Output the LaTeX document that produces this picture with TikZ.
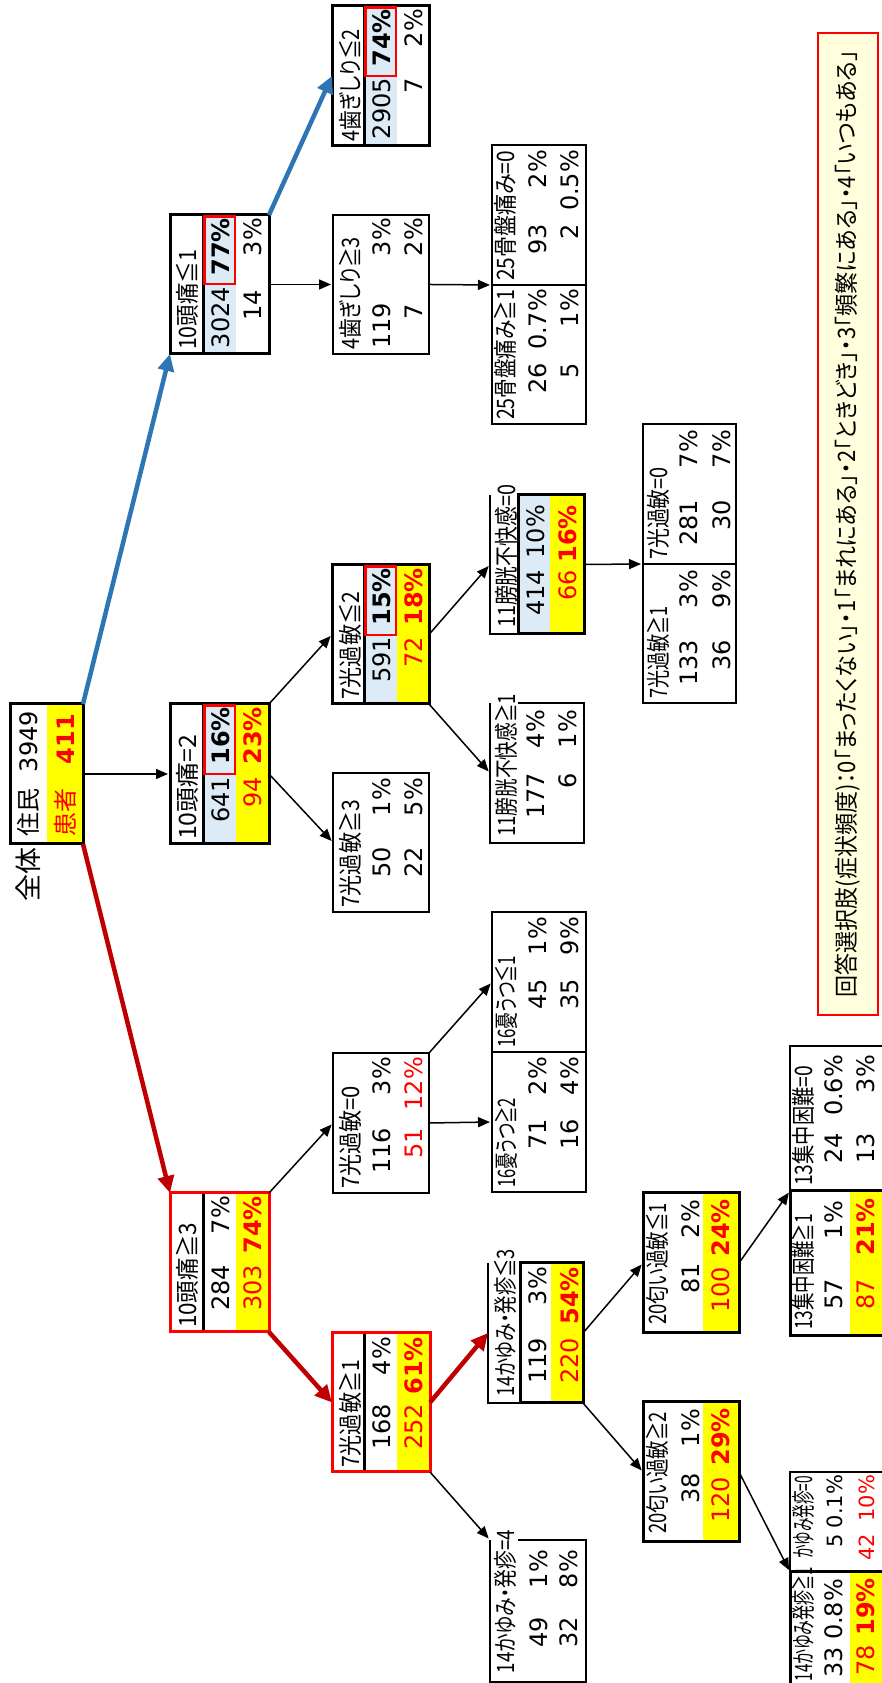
\documentclass[tikz,border=0pt]{standalone}
\usepackage{fontspec}
\setmainfont{Noto Sans CJK JP}[RawFeature=+palt]
\newfontfamily\numf{DejaVu Sans}
\usetikzlibrary{arrows.meta}
\definecolor{lb}{HTML}{DDEBF7}
\definecolor{yel}{HTML}{FFFF00}
\definecolor{rd}{HTML}{FF0000}
\definecolor{dred}{HTML}{C00000}
\definecolor{blu}{HTML}{2E75B6}
\definecolor{leg}{HTML}{FFFFDD}
\newcommand\bx[6]{\node[bxs,#6,minimum width={(#4)-(#2)},minimum height={(#5)-(#3)}] (#1) at (#2,-#5) {};}
\newcommand\hw[2]{\resizebox{#1pt}{\height}{#2}}
\begin{document}
\begin{tikzpicture}[x=1pt,y=1pt,
  every node/.style={inner sep=0pt,outer sep=0pt,font=\fontsize{24}{28}\selectfont},
  bxs/.style={anchor=south west,inner sep=0pt,outer sep=0pt},
  tk/.style={draw=black,line width=3pt},
  tkr/.style={draw=rd,line width=3pt},
  tn/.style={draw=black,line width=1.2pt},
  hl/.style={draw=rd,line width=2.5pt},
  hd/.style={anchor=west},
  nr/.style={anchor=base east,font=\fontsize{24}{28}\selectfont\numf},
  bfn/.style={font=\fontsize{24}{28}\selectfont\numf\bfseries},
  sm/.style={font=\fontsize{21}{24}\selectfont\numf},
  redt/.style={text=rd},
  ar/.style={draw=black,line width=1.5pt,-{Triangle[length=12pt,width=10pt]},shorten >=2pt},
  arb/.style={draw=blu,line width=4.5pt,-{Triangle[length=17pt,width=16pt]}},
  arr/.style={draw=dred,line width=4.5pt,-{Triangle[length=17pt,width=16pt]}}]
\useasboundingbox (0,0) rectangle (882,1683);
\fill[white] (0,0) rectangle (882,1683);
\begin{scope}[rotate=90,transform shape]
% ---------- root
\fill[yel] (839,-47) rectangle (979,-83);
\bx{root}{839}{10}{979}{83}{tk}
\node[anchor=base west] (rootT1) at (846,-37) {住民};
\node[nr] (rootT2) at (972,-37) {3949};
\node[anchor=base west,redt] (rootT3) at (846,-74) {患者};
\node[nr,redt,bfn] (rootT4) at (969,-74) {411};
\node[font=\fontsize{27}{30}\selectfont] (zentai) at (808,-28) {全体};
% ---------- 10頭痛≦1
\fill[lb] (1329,-203) rectangle (1468,-236);
\draw[tk] (1329,-203) -- (1468,-203);
\bx{hA}{1329}{170}{1468}{269}{tk}
\draw[hl] (1399,-204.5) rectangle (1466.5,-235);
\node[hd] (hAt) at (1333,-187) {\hw{100}{10頭痛≦1}};
\node[nr] (hA1) at (1396,-229) {3024};
\node[nr,bfn] (hA2) at (1465,-229) {77\%};
\node[nr] (hA3) at (1393,-261) {14};
\node[nr] (hA4) at (1465,-261) {3\%};
% ---------- 10頭痛=2
\fill[lb] (839,-203) rectangle (979,-236);
\fill[yel] (839,-236) rectangle (979,-269);
\draw[tk] (839,-203) -- (979,-203);
\bx{hB}{839}{170}{979}{269}{tk}
\draw[hl] (909,-204.5) rectangle (977.5,-235);
\node[hd] (hBt) at (843,-187) {\hw{105}{10頭痛=2}};
\node[nr] (hB1) at (906,-229) {641};
\node[nr,bfn] (hB2) at (976,-229) {16\%};
\node[nr,redt] (hB3) at (906,-261) {94};
\node[nr,redt,bfn] (hB4) at (976,-261) {23\%};
% ---------- 10頭痛≧3
\fill[yel] (351,-236) rectangle (490,-269);
\draw[tk] (351,-203) -- (490,-203);
\bx{hC}{351}{170}{490}{269}{tkr}
\node[hd] (hCt) at (355,-187) {\hw{105}{10頭痛≧3}};
\node[nr] (hC1) at (418,-229) {284};
\node[nr] (hC2) at (487,-229) {7\%};
\node[nr,redt] (hC3) at (418,-261) {303};
\node[nr,redt,bfn] (hC4) at (487,-261) {74\%};
% ---------- 4歯ぎしり≦2
\fill[lb] (1537,-364) rectangle (1677,-397);
\draw[tk] (1537,-364) -- (1677,-364);
\bx{gA}{1537}{332}{1677}{429}{tk}
\draw[hl] (1607,-365.5) rectangle (1675.5,-396);
\node[hd] (gAt) at (1541,-350) {\hw{113}{4歯ぎしり≦2}};
\node[nr] (gA1) at (1605,-390) {2905};
\node[nr,bfn] (gA2) at (1674,-390) {74\%};
\node[nr] (gA3) at (1605,-422) {7};
\node[nr] (gA4) at (1674,-422) {2\%};
% ---------- 4歯ぎしり≧3
\bx{gB}{1329}{333}{1468}{429}{tn}
\node[hd] (gBt) at (1333,-350) {\hw{113}{4歯ぎしり≧3}};
\node[nr] (gB1) at (1380,-390) {119};
\node[nr] (gB2) at (1465,-390) {3\%};
\node[nr] (gB3) at (1379,-422) {7};
\node[nr] (gB4) at (1465,-422) {2\%};
% ---------- 7光過敏≦2
\fill[lb] (979,-364) rectangle (1118,-397);
\fill[yel] (979,-397) rectangle (1118,-429);
\draw[tk] (979,-364) -- (1118,-364);
\bx{kA}{979}{332}{1118}{429}{tk}
\draw[hl] (1048,-365.5) rectangle (1116.5,-396);
\node[hd] (kAt) at (983,-350) {\hw{108}{7光過敏≦2}};
\node[nr] (kA1) at (1046,-390) {591};
\node[nr,bfn] (kA2) at (1115,-390) {15\%};
\node[nr,redt] (kA3) at (1046,-422) {72};
\node[nr,redt,bfn] (kA4) at (1115,-422) {18\%};
% ---------- 7光過敏≧3
\bx{kB}{771}{333}{910}{429}{tn}
\node[hd] (kBt) at (775,-350) {\hw{108}{7光過敏≧3}};
\node[nr] (kB1) at (836,-390) {50};
\node[nr] (kB2) at (905,-390) {1\%};
\node[nr] (kB3) at (836,-422) {22};
\node[nr] (kB4) at (905,-422) {5\%};
% ---------- 7光過敏=0
\bx{eA}{490}{333}{630}{429}{tn}
\node[hd] (eAt) at (494,-350) {\hw{103}{7光過敏=0}};
\node[nr] (eA1) at (555,-390) {116};
\node[nr] (eA2) at (626,-390) {3\%};
\node[nr,redt] (eA3) at (555,-422) {51};
\node[nr,redt] (eA4) at (626,-422) {12\%};
% ---------- 7光過敏≧1 (level 2)
\fill[yel] (211,-397) rectangle (350,-430);
\draw[tk] (211,-364) -- (350,-364);
\bx{eB}{211}{332}{350}{430}{tkr}
\node[hd] (eBt) at (215,-350) {\hw{108}{7光過敏≧1}};
\node[nr] (eB1) at (279,-390) {168};
\node[nr] (eB2) at (346,-390) {4\%};
\node[nr,redt] (eB3) at (279,-422) {252};
\node[nr,redt,bfn] (eB4) at (346,-422) {61\%};
% ---------- 25骨盤痛み
\bx{bonA}{1259}{492}{1398}{586}{tn}
\bx{bonB}{1398}{492}{1538}{586}{tn}
\node[hd] (bonAt) at (1263,-505) {\hw{130}{25骨盤痛み≧1}};
\node[nr] (bonA1) at (1320,-546) {26};
\node[nr] (bonA2) at (1394,-546) {0.7\%};
\node[nr] (bonA3) at (1320,-578) {5};
\node[nr] (bonA4) at (1394,-578) {1\%};
\node[hd] (bonBt) at (1402,-505) {\hw{130}{25骨盤痛み=0}};
\node[nr] (bonB1) at (1459,-546) {93};
\node[nr] (bonB2) at (1533,-546) {2\%};
\node[nr] (bonB3) at (1459,-578) {2};
\node[nr] (bonB4) at (1533,-578) {0.5\%};
% ---------- 11膀胱不快感=0
\fill[lb] (1049,-518) rectangle (1188,-550);
\fill[yel] (1049,-550) rectangle (1188,-584);
\bx{bA}{1049}{490}{1188}{584}{}
\draw[tn] (1188,-490) -- (1049,-490) -- (1049,-518);
\bx{bAd}{1049}{518}{1188}{584}{tk}
\node[hd] (bAt) at (1055,-506) {\hw{143}{11膀胱不快感=0}};
\node[nr] (bA1) at (1113,-544) {414};
\node[nr] (bA2) at (1178,-544) {10\%};
\node[nr,redt] (bA3) at (1113,-576) {66};
\node[nr,redt,bfn] (bA4) at (1178,-576) {16\%};
% ---------- 11膀胱不快感≧1
\bx{bB}{840}{490}{980}{584}{}
\draw[tn] (980,-518) -- (980,-584) -- (840,-584) -- (840,-490) -- (980,-490);
\node[hd] (bBt) at (846,-506) {\hw{143}{11膀胱不快感≧1}};
\node[nr] (bB1) at (910,-544) {177};
\node[nr] (bB2) at (973,-544) {4\%};
\node[nr] (bB3) at (910,-576) {6};
\node[nr] (bB4) at (973,-576) {1\%};
% ---------- 7光過敏 (level 4)
\bx{lA}{980}{643}{1119}{736}{tn}
\bx{lB}{1119}{643}{1259}{736}{tn}
\node[hd] (lAt) at (984,-658) {\hw{93}{7光過敏≧1}};
\node[nr] (lA1) at (1043,-697) {133};
\node[nr] (lA2) at (1113,-697) {3\%};
\node[nr] (lA3) at (1043,-730) {36};
\node[nr] (lA4) at (1113,-730) {9\%};
\node[hd] (lBt) at (1123,-658) {\hw{93}{7光過敏=0}};
\node[nr] (lB1) at (1183,-697) {281};
\node[nr] (lB2) at (1253,-697) {7\%};
\node[nr] (lB3) at (1183,-730) {30};
\node[nr] (lB4) at (1253,-730) {7\%};
% ---------- 16憂うつ
\bx{uA}{491}{492}{631}{586}{tn}
\bx{uB}{631}{492}{771}{586}{tn}
\node[hd] (uAt) at (495,-506) {\hw{90}{16憂うつ≧2}};
\node[nr] (uA1) at (564,-546) {71};
\node[nr] (uA2) at (626,-546) {2\%};
\node[nr] (uA3) at (564,-578) {16};
\node[nr] (uA4) at (626,-578) {4\%};
\node[hd] (uBt) at (635,-506) {\hw{92}{16憂うつ≦1}};
\node[nr] (uB1) at (704,-546) {45};
\node[nr] (uB2) at (766,-546) {1\%};
\node[nr] (uB3) at (704,-578) {35};
\node[nr] (uB4) at (766,-578) {9\%};
% ---------- 14かゆみ・発疹≦3
\fill[yel] (280,-551) rectangle (420,-583);
\bx{cA}{280}{488}{420}{583}{}
\draw[tn] (420,-488) -- (280,-488) -- (280,-520);
\bx{cAd}{280}{520}{420}{583}{tk}
\node[hd] (cAt) at (286,-505) {\hw{148}{14かゆみ・発疹≦3}};
\node[nr] (cA1) at (345,-546) {119};
\node[nr] (cA2) at (416,-546) {3\%};
\node[nr,redt] (cA3) at (345,-578) {220};
\node[nr,redt,bfn] (cA4) at (416,-578) {54\%};
% ---------- 14かゆみ・発疹=4
\bx{dA}{1}{490}{143}{586}{}
\draw[tn] (143,-518) -- (143,-586) -- (1,-586) -- (1,-490) -- (143,-490);
\node[hd] (dAt) at (10,-505) {\hw{143}{14かゆみ・発疹=4}};
\node[nr] (dA1) at (66,-547) {49};
\node[nr] (dA2) at (133,-547) {1\%};
\node[nr] (dA3) at (66,-577) {32};
\node[nr] (dA4) at (133,-577) {8\%};
% ---------- 20匂い過敏≦1
\fill[yel] (350,-703) rectangle (490,-739);
\bx{fA}{350}{643}{490}{739}{tk}
\node[hd] (fAt) at (358,-657) {\hw{122}{20匂い過敏≦1}};
\node[nr] (fA1) at (420,-699) {81};
\node[nr] (fA2) at (483,-699) {2\%};
\node[nr,redt] (fA3) at (416,-729) {100};
\node[nr,redt,bfn] (fA4) at (484,-729) {24\%};
% ---------- 20匂い過敏≧2
\fill[yel] (141,-703) rectangle (281,-739);
\bx{fB}{141}{643}{281}{739}{tk}
\node[hd] (fBt) at (149,-657) {\hw{122}{20匂い過敏≧2}};
\node[nr] (fB1) at (210,-699) {38};
\node[nr] (fB2) at (274,-699) {1\%};
\node[nr,redt] (fB3) at (206,-729) {120};
\node[nr,redt,bfn] (fB4) at (275,-729) {29\%};
% ---------- 13集中困難
\bx{mB}{492}{790}{637}{900}{tn}
\fill[yel] (347,-850) rectangle (492,-900);
\bx{mA}{347}{790}{492}{900}{tk}
\node[hd] (mAt) at (353,-803) {\hw{116}{13集中困難≧1}};
\node[nr] (mA1) at (404,-842) {57};
\node[nr] (mA2) at (482,-842) {1\%};
\node[nr,redt] (mA3) at (404,-874) {87};
\node[nr,redt,bfn] (mA4) at (485,-874) {21\%};
\node[hd] (mBt) at (497,-803) {\hw{120}{13集中困難=0}};
\node[nr] (mB1) at (550,-842) {24};
\node[nr] (mB2) at (628,-842) {0.6\%};
\node[nr] (mB3) at (550,-874) {13};
\node[nr] (mB4) at (628,-874) {3\%};
% ---------- 14かゆみ発疹
\bx{nB}{111}{790}{211}{900}{tn}
\fill[yel] (-8,-850) rectangle (111,-900);
\bx{nA}{-8}{790}{111}{900}{tk}
\node[hd] (nAt) at (2,-803) {\hw{114}{14かゆみ発疹≧1}};
\node[nr] (nA1) at (36,-842) {33};
\node[nr] (nA2) at (104,-842) {0.8\%};
\node[nr,redt] (nA3) at (38,-874) {78};
\node[nr,redt,bfn] (nA4) at (105,-874) {19\%};
\node[hd] (nBt) at (125,-803) {\hw{82}{かゆみ発疹=0}};
\node[nr,sm] (nB1) at (149,-842) {5};
\node[nr,sm] (nB2) at (208,-842) {0.1\%};
\node[nr,sm,redt] (nB3) at (149,-874) {42};
\node[nr,sm,redt] (nB4) at (208,-874) {10\%};
% ---------- legend
\node[draw=rd,line width=2pt,fill=leg,minimum width=982,minimum height=60] (legend) at (1159,-848)
  {\hw{947}{回答選択肢(症状頻度)：0「まったくない」・1「まれにある」・2「ときどき」・3「頻繁にある」・4「いつもある」}};
% ---------- connectors
\draw[arb] (root.south east) -- (hA.north west);
\draw[arr] (root.south west) -- (hC.north east);
\draw[ar] (root.south) -- (hB.north);
\draw[arb] (hA.south east) -- (gA.north);
\draw[ar] (hA.south) -- (gB.north);
\draw[ar] (gB.south) -- (bonA.north east);
\draw[ar] (hB.south east) -- (kA.north);
\draw[ar] (hB.south) -- (kB.north);
\draw[ar] (kA.south) -- (bA.north);
\draw[ar] (kA.south west) -- (bB.north);
\draw[ar] (bAd.south) -- (lA.north east);
\draw[ar] (hC.south east) -- (eA.north);
\draw[arr] (hC.south west) -- (eB.north);
\draw[ar] (eA.south east) -- (uB.north);
\draw[ar] (eA.south) -- (uA.north);
\draw[arr] (eB.south) -- (cA.north);
\draw[ar] (eB.south west) -- (dA.north east);
\draw[ar] (cAd.south) -- (fA.north);
\draw[ar] (cAd.south west) -- (fB.north);
\draw[ar] (fA.south) -- (mA.north east);
\draw[ar] (fB.south) -- (nA.north east);
\end{scope}
\end{tikzpicture}
\end{document}
